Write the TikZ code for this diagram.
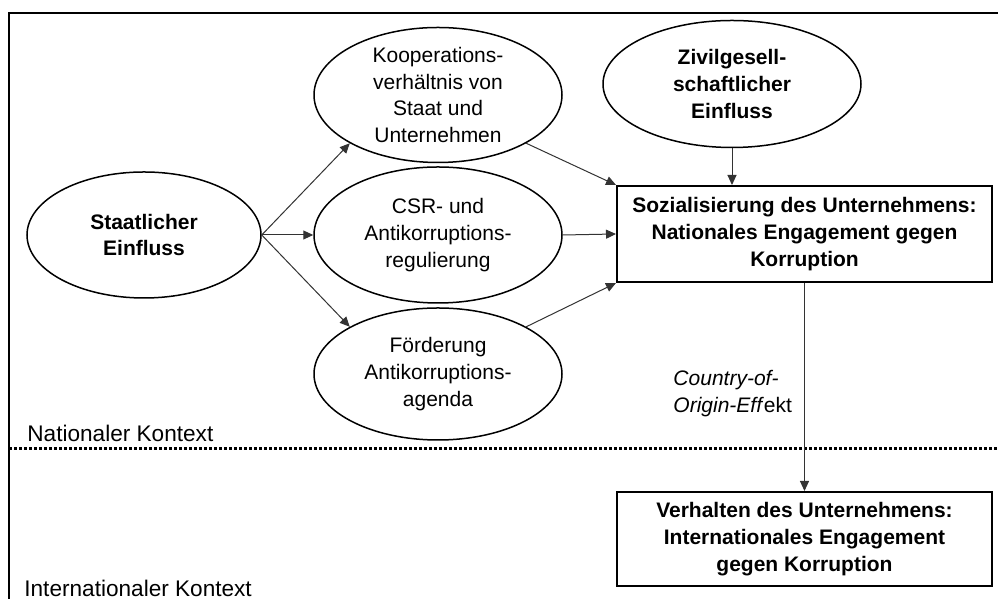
\documentclass[tikz,border=0pt]{standalone}
\usepackage{fontspec}
\setmainfont{Liberation Sans}
\usepackage{tikz}
\usetikzlibrary{shapes.geometric, arrows.meta, positioning, calc}

\begin{document}
\begin{tikzpicture}[x=0.5pt,y=0.5pt,>={Triangle[length=5pt,width=4.5pt]},
                    oval node/.style={ellipse,draw,line width=0.75pt,inner sep=-8pt,align=center,
                                      font=\fontsize{10.5}{13.4}\selectfont},
                    box node/.style={rectangle,draw,line width=1pt,align=center,minimum width=187.5pt,
                                     font=\fontsize{10.5}{13.4}\selectfont\bfseries},
                    flow/.style={->,line width=0.5pt,draw=black!80}]
\useasboundingbox (0,0) rectangle (998,599);

% frame and border between the contexts
\draw[line width=1pt] (9,0) -- (9,586) -- (998,586);
\draw[line width=1.5pt,dash pattern=on 1.5pt off 1pt] (9,150) -- (998,150);

\node[oval node,font=\fontsize{10.5}{13.4}\selectfont\bfseries,minimum width=117pt,minimum height=63pt]
     (Staat) at (144,364) {Staatlicher\\Einfluss};
\node[oval node,minimum width=124pt,minimum height=67.5pt]
     (Kooperation) at (438,504) {Kooperations-\\verhältnis von\\Staat und\\Unternehmen};
\node[oval node,minimum width=124pt,minimum height=68pt]
     (Regulierung) at (438,364) {CSR- und\\Antikorruptions-\\regulierung};
\node[oval node,minimum width=124pt,minimum height=66pt]
     (Agenda) at (438,225) {Förderung\\Antikorruptions-\\agenda};
\node[oval node,font=\fontsize{10.5}{13.4}\selectfont\bfseries,minimum width=129pt,minimum height=63.5pt]
     (Zivil) at (732,515) {Zivilgesell-\\schaftlicher\\Einfluss};

\node[box node,minimum height=48pt] (Sozialisierung) at (804.5,365)
     {Sozialisierung des Unternehmens:\\Nationales Engagement gegen\\Korruption};
\node[box node,minimum height=47pt] (Verhalten) at (804.5,60)
     {Verhalten des Unternehmens:\\Internationales Engagement\\gegen Korruption};

\node[anchor=west,inner sep=0pt,font=\fontsize{11.3}{13.5}\selectfont] (NatLabel) at (27,166) {Nationaler Kontext};
\node[anchor=west,inner sep=0pt,font=\fontsize{11.3}{13.5}\selectfont] (IntLabel) at (24,11) {Internationaler Kontext};

\draw[flow] (Staat.east) -- (Kooperation.south west);
\draw[flow] (Staat.east) -- (Regulierung.west);
\draw[flow] (Staat.east) -- (Agenda.north west);

\draw[flow] (Kooperation.south east) -- (Sozialisierung.north west);
\draw[flow] (Regulierung.east) -- (Sozialisierung.west);
\draw[flow] (Agenda.north east) -- (Sozialisierung.south west);
\draw[flow] (Zivil.south) -- (Zivil.south |- Sozialisierung.north);

\draw[flow] (Sozialisierung.south) -- (Verhalten.north)
     node[pos=0.53,left=6pt,align=left,inner sep=0pt,font=\fontsize{10.5}{13.4}\selectfont]
     {\textit{Country-of-}\\\textit{Origin-Eff}ekt};
\end{tikzpicture}
\end{document}
